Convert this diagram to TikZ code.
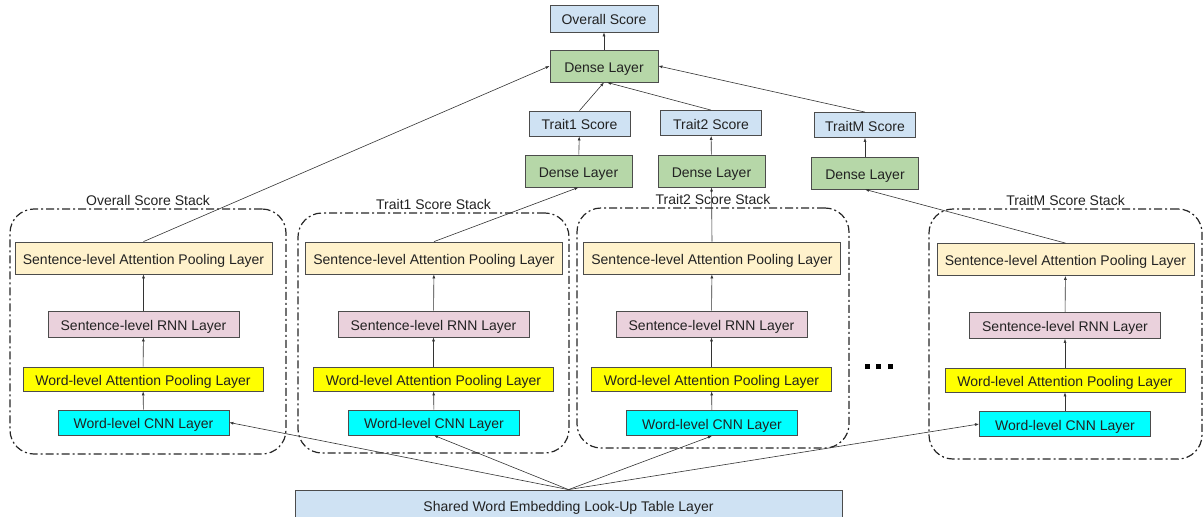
\documentclass[tikz,border=0pt]{standalone}
\usepackage{fontspec}
\setmainfont{Liberation Sans}
\usetikzlibrary{arrows.meta}

\definecolor{scoreblue}{HTML}{CFE2F3}
\definecolor{densegreen}{HTML}{B6D7A8}
\definecolor{sentcream}{HTML}{FFF2CC}
\definecolor{rnnpink}{HTML}{EAD1DC}
\definecolor{wordyellow}{HTML}{FFFF00}
\definecolor{cnncyan}{HTML}{00FFFF}
\definecolor{inkgray}{HTML}{222222}

\tikzset{
  layer/.style={draw=black!70, line width=0.8pt, inner sep=0pt, text=inkgray,
    text height=13pt, text depth=1pt, font=\fontsize{14}{16}\selectfont},
  scorebox/.style={layer, fill=scoreblue, minimum width=101pt, minimum height=25pt},
  densebox/.style={layer, fill=densegreen, minimum width=107pt, minimum height=32pt},
  sentatt/.style={layer, fill=sentcream, minimum width=257pt, minimum height=32pt},
  sentrnn/.style={layer, fill=rnnpink, minimum width=191pt, minimum height=26pt},
  wordatt/.style={layer, fill=wordyellow, minimum width=240pt, minimum height=24pt},
  wordcnn/.style={layer, fill=cnncyan, minimum width=171pt, minimum height=25pt},
  stacklabel/.style={inner sep=1pt, text=inkgray, font=\fontsize{14}{16}\selectfont},
  stackbox/.style={draw=black!85, line width=1.2pt, rounded corners=24pt,
    dash pattern=on 8pt off 3pt on 2pt off 3pt},
  arr/.style={-{Latex[length=4pt,width=3pt]}, line width=0.6pt, draw=black!80}
}

\begin{document}
\begin{tikzpicture}[x=1pt, y=-1pt]
\useasboundingbox (0,0) rectangle (1203,517);

% stack frames
\node[stackbox, minimum width=276pt, minimum height=245pt,
  label={[stacklabel, label distance=2pt]above:Overall Score Stack}] (ostack) at (148,331.5) {};
\node[stackbox, minimum width=271pt, minimum height=240pt,
  label={[stacklabel, label distance=2pt]above:Trait1 Score Stack}] (astack) at (433.5,333) {};
\node[stackbox, minimum width=272pt, minimum height=240pt,
  label={[stacklabel, label distance=2pt]above:Trait2 Score Stack}] (bstack) at (713,328) {};
\node[stackbox, minimum width=273pt, minimum height=250pt,
  label={[stacklabel, label distance=2pt]above:TraitM Score Stack}] (mstack) at (1065.5,334) {};

% top of the network
\node[scorebox, minimum width=108pt, minimum height=27pt] (oscore) at (604,18.5) {Overall Score};
\node[densebox, minimum width=108pt] (odense) at (604,66) {Dense Layer};
\node[scorebox] (ascore) at (579.5,123.5) {Trait1 Score};
\node[scorebox] (bscore) at (711,123) {Trait2 Score};
\node[scorebox] (mscore) at (865,125) {TraitM Score};
\node[densebox] (adense) at (578.5,171) {Dense Layer};
\node[densebox] (bdense) at (711.5,171) {Dense Layer};
\node[densebox] (mdense) at (865,173) {Dense Layer};

% overall stack
\node[sentatt] (osatt) at (143.5,258) {Sentence-level Attention Pooling Layer};
\node[sentrnn] (ornn) at (143.5,324) {Sentence-level RNN Layer};
\node[wordatt] (owatt) at (143,379) {Word-level Attention Pooling Layer};
\node[wordcnn] (ocnn) at (143.5,422.5) {Word-level CNN Layer};

% trait1 stack
\node[sentatt] (asatt) at (434,258) {Sentence-level Attention Pooling Layer};
\node[sentrnn] (arnn) at (433.5,324) {Sentence-level RNN Layer};
\node[wordatt] (awatt) at (433.5,379) {Word-level Attention Pooling Layer};
\node[wordcnn] (acnn) at (434,422.5) {Word-level CNN Layer};

% trait2 stack
\node[sentatt] (bsatt) at (712,258) {Sentence-level Attention Pooling Layer};
\node[sentrnn] (brnn) at (711.5,324) {Sentence-level RNN Layer};
\node[wordatt] (bwatt) at (711.5,379) {Word-level Attention Pooling Layer};
\node[wordcnn] (bcnn) at (712,423) {Word-level CNN Layer};

% traitM stack
\node[sentatt] (msatt) at (1065.5,259.5) {Sentence-level Attention Pooling Layer};
\node[sentrnn] (mrnn) at (1065,325.5) {Sentence-level RNN Layer};
\node[wordatt] (mwatt) at (1065,380) {Word-level Attention Pooling Layer};
\node[wordcnn] (mcnn) at (1065,424) {Word-level CNN Layer};

\node[inner sep=0pt] (gap) at (878.5,366.5)
  {\rule{5pt}{5pt}\hspace{6.5pt}\rule{5pt}{5pt}\hspace{6.5pt}\rule{5pt}{5pt}};

\node[layer, fill=scoreblue, minimum width=547pt, minimum height=30pt] (embed) at (568.5,505)
  {Shared Word Embedding Look-Up Table Layer};

% embedding to each stack
\draw[arr] (embed.north) -- (ocnn.east);
\draw[arr] (embed.north) -- (acnn.south);
\draw[arr] (embed.north) -- (bcnn.south);
\draw[arr] (embed.north) -- (mcnn.west);

% inside the stacks
\draw[arr] (ocnn) -- (owatt);
\draw[arr] (owatt) -- (ornn);
\draw[arr] (ornn) -- (osatt);
\draw[arr] (acnn) -- (awatt);
\draw[arr] (awatt) -- (arnn);
\draw[arr] (arnn) -- (asatt);
\draw[arr] (bcnn) -- (bwatt);
\draw[arr] (bwatt) -- (brnn);
\draw[arr] (brnn) -- (bsatt);
\draw[arr] (mcnn) -- (mwatt);
\draw[arr] (mwatt) -- (mrnn);
\draw[arr] (mrnn) -- (msatt);

% stacks to the dense layers
\draw[arr] (osatt.north) -- (odense.west);
\draw[arr] (asatt.north) -- (adense.south);
\draw[arr] (bsatt.north) -- (bdense.south);
\draw[arr] (msatt.north) -- (mdense.south);
\draw[arr] (adense) -- (ascore);
\draw[arr] (bdense) -- (bscore);
\draw[arr] (mdense) -- (mscore);
\draw[arr] (ascore.north) -- (odense.south);
\draw[arr] (bscore.north) -- ([xshift=3pt]odense.south);
\draw[arr] (mscore.north) -- (odense.east);
\draw[arr] (odense) -- (oscore);
\end{tikzpicture}
\end{document}
